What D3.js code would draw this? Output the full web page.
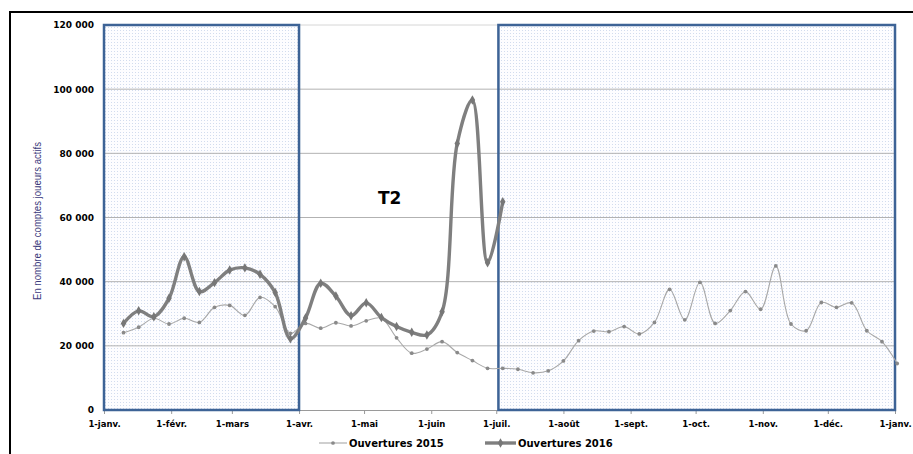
<!DOCTYPE html>
<html>
<head>
<meta charset="utf-8">
<script src="https://cdn.jsdelivr.net/npm/d3@7"></script>
<style>
  body { margin: 0; background: #fff; }
  svg { display: block; }
  .tick text { font-family: "DejaVu Sans", sans-serif; font-weight: bold; fill: #000; }
</style>
</head>
<body>
<div id="chart"></div>
<script>
// weekly points (same dates for both years, 2016 stops early July)
const weeks = [
  "2015-01-10","2015-01-17","2015-01-24","2015-01-31","2015-02-07","2015-02-14","2015-02-21","2015-02-28",
  "2015-03-07","2015-03-14","2015-03-21","2015-03-28","2015-04-04","2015-04-11","2015-04-18","2015-04-25",
  "2015-05-02","2015-05-09","2015-05-16","2015-05-23","2015-05-30","2015-06-06","2015-06-13","2015-06-20",
  "2015-06-27","2015-07-04","2015-07-11","2015-07-18","2015-07-25","2015-08-01","2015-08-08","2015-08-15",
  "2015-08-22","2015-08-29","2015-09-05","2015-09-12","2015-09-19","2015-09-26","2015-10-03","2015-10-10",
  "2015-10-17","2015-10-24","2015-10-31","2015-11-07","2015-11-14","2015-11-21","2015-11-28","2015-12-05",
  "2015-12-12","2015-12-19","2015-12-26","2016-01-02"
];

const ouv2015 = [
  24100, 25800, 28600, 26800, 28600, 27300, 32000, 32600, 29500, 35100, 32200, 23900,
  27000, 25500, 27200, 26200, 27800, 28600, 22500, 17700, 19000, 21300, 17900, 15400,
  13000, 13000, 12700, 11600, 12200, 15300, 21600, 24600, 24400, 26000, 23700, 27300,
  37600, 28100, 39800, 27000, 31000, 36900, 31400, 44900, 26800, 24700, 33500, 32000,
  33400, 24700, 21300, 14500
];

const ouv2016 = [
  27000, 30900, 29100, 34800, 47800, 36900, 39700, 43600, 44300, 42300, 36600, 22200,
  28700, 39500, 35500, 29400, 33400, 28800, 26000, 24200, 23400, 30600, 83100, 96600,
  45900, 64900
];

const monthLabels = ["janv.", "févr.", "mars", "avr.", "mai", "juin", "juil.", "août",
                     "sept.", "oct.", "nov.", "déc.", "janv."];
const yTicks = [0, 20000, 40000, 60000, 80000, 100000, 120000];
const shadedPeriods = [["2015-01-01", "2015-04-01"], ["2015-07-02", "2016-01-01"]];
const seriesNames = ["Ouvertures 2015", "Ouvertures 2016"];

const width = 913, height = 454;
const plot = {left: 104, right: 895, top: 25, bottom: 410};
const parse = d3.timeParse("%Y-%m-%d");

const svg = d3.select("#chart").append("svg")
  .attr("width", width)
  .attr("height", height);

const defs = svg.append("defs");
const pat = defs.append("pattern")
  .attr("id", "dots")
  .attr("patternUnits", "userSpaceOnUse")
  .attr("width", 3).attr("height", 3);
pat.append("rect").attr("width", 3).attr("height", 3).attr("fill", "#fdfdff");
pat.append("rect").attr("width", 1).attr("height", 1).attr("fill", "#d2dcee");

// outer frame (cropped on right and bottom)
svg.append("rect")
  .attr("x", 10).attr("y", 12)
  .attr("width", 1000).attr("height", 1000)
  .attr("fill", "none")
  .attr("stroke", "#000")
  .attr("stroke-width", 2);

const x = d3.scaleTime()
  .domain([parse("2015-01-01"), parse("2016-01-01")])
  .range([plot.left, plot.right]);
const y = d3.scaleLinear()
  .domain([0, 120000])
  .range([plot.bottom, plot.top]);

// shaded periods, fill first
svg.append("g").selectAll("rect")
  .data(shadedPeriods)
  .enter().append("rect")
  .attr("x", d => x(parse(d[0])))
  .attr("y", y(120000))
  .attr("width", d => x(parse(d[1])) - x(parse(d[0])))
  .attr("height", y(0) - y(120000))
  .attr("fill", "url(#dots)");

// gridlines
svg.append("g").selectAll("line")
  .data(yTicks.filter(v => v > 0))
  .enter().append("line")
  .attr("x1", plot.left).attr("x2", plot.right)
  .attr("y1", d => y(d)).attr("y2", d => y(d))
  .attr("stroke", d => d === 120000 ? "#d6d6d6" : "#b2b2b2")
  .attr("stroke-width", 1);

// x axis
const fr = d3.formatLocale({decimal: ",", thousands: " ", grouping: [3], currency: ["", " €"]});
const months = d3.timeMonth.range(parse("2015-01-01"), parse("2016-01-02"));
const xAxis = d3.axisBottom(x)
  .tickValues(months)
  .tickSize(4)
  .tickPadding(7)
  .tickFormat((d, i) => "1-" + monthLabels[i]);
const gx = svg.append("g")
  .attr("transform", `translate(0,${plot.bottom})`)
  .call(xAxis);
gx.select(".domain").attr("stroke", "#9a9a9a");
gx.selectAll(".tick line").attr("stroke", "#9a9a9a");
gx.selectAll(".tick text").style("font-size", "8.5px");

// y axis labels
const yAxis = d3.axisLeft(y)
  .tickValues(yTicks)
  .tickSize(0)
  .tickPadding(10)
  .tickFormat(fr.format(",d"));
const gy = svg.append("g")
  .attr("transform", `translate(${plot.left},0)`)
  .call(yAxis);
gy.select(".domain").remove();
gy.selectAll(".tick text").style("font-size", "9px");

// shaded period outlines
svg.append("g").selectAll("rect")
  .data(shadedPeriods)
  .enter().append("rect")
  .attr("x", d => x(parse(d[0])))
  .attr("y", y(120000))
  .attr("width", d => x(parse(d[1])) - x(parse(d[0])))
  .attr("height", y(0) - y(120000))
  .attr("fill", "none")
  .attr("stroke", "#3d6396")
  .attr("stroke-width", 2.5);

// series
const pts2015 = ouv2015.map((v, i) => ({date: parse(weeks[i]), value: v}));
const pts2016 = ouv2016.map((v, i) => ({date: parse(weeks[i]), value: v}));

const line = d3.line()
  .x(d => x(d.date))
  .y(d => y(d.value))
  .curve(d3.curveCatmullRom.alpha(0.5));

svg.append("path")
  .datum(pts2015)
  .attr("d", line)
  .attr("fill", "none")
  .attr("stroke", "#a8a8a8")
  .attr("stroke-width", 1.1);
svg.append("g").selectAll("circle")
  .data(pts2015)
  .enter().append("circle")
  .attr("cx", d => x(d.date))
  .attr("cy", d => y(d.value))
  .attr("r", 1.9)
  .attr("fill", "#8a8a8a");

svg.append("path")
  .datum(pts2016)
  .attr("d", line)
  .attr("fill", "none")
  .attr("stroke", "#7f7f7f")
  .attr("stroke-width", 3.4)
  .attr("stroke-linejoin", "round");
const diamond = d3.symbol().type(d3.symbolDiamond).size(26);
svg.append("g").selectAll("path")
  .data(pts2016)
  .enter().append("path")
  .attr("transform", d => `translate(${x(d.date)},${y(d.value)})`)
  .attr("d", diamond)
  .attr("fill", "#777");

// T2 annotation
svg.append("text")
  .attr("x", 378).attr("y", 204)
  .style("font-family", "DejaVu Sans, sans-serif")
  .style("font-weight", "bold")
  .style("font-size", "17px")
  .text("T2");

// y title
svg.append("text")
  .attr("transform", "translate(41,221) rotate(-90)")
  .attr("text-anchor", "middle")
  .attr("textLength", 158)
  .attr("lengthAdjust", "spacingAndGlyphs")
  .style("font-family", "'Liberation Sans Narrow', 'Arial Narrow', 'Liberation Sans', sans-serif")
  .style("font-size", "10px")
  .style("fill", "#3b3a7c")
  .text("En nombre de comptes joueurs actifs");

// legend
const legendItems = [
  {name: seriesNames[0], x1: 319, x2: 347, w: 1.1, stroke: "#a8a8a8", mark: "circle"},
  {name: seriesNames[1], x1: 485, x2: 516, w: 3.4, stroke: "#7f7f7f", mark: "diamond"}
];
const lg = svg.append("g").selectAll("g")
  .data(legendItems)
  .enter().append("g");
lg.append("line")
  .attr("x1", d => d.x1).attr("x2", d => d.x2)
  .attr("y1", 443).attr("y2", 443)
  .attr("stroke", d => d.stroke)
  .attr("stroke-width", d => d.w);
lg.append("path")
  .attr("transform", d => `translate(${(d.x1 + d.x2) / 2},443)`)
  .attr("d", d => d.mark === "circle" ? d3.symbol().type(d3.symbolCircle).size(11)() : diamond())
  .attr("fill", d => d.mark === "circle" ? "#8a8a8a" : "#777");
lg.append("text")
  .attr("x", d => d.x2 + 2)
  .attr("y", 447)
  .style("font-family", "DejaVu Sans, sans-serif")
  .style("font-weight", "bold")
  .style("font-size", "10px")
  .text(d => d.name);
</script>
</body>
</html>
